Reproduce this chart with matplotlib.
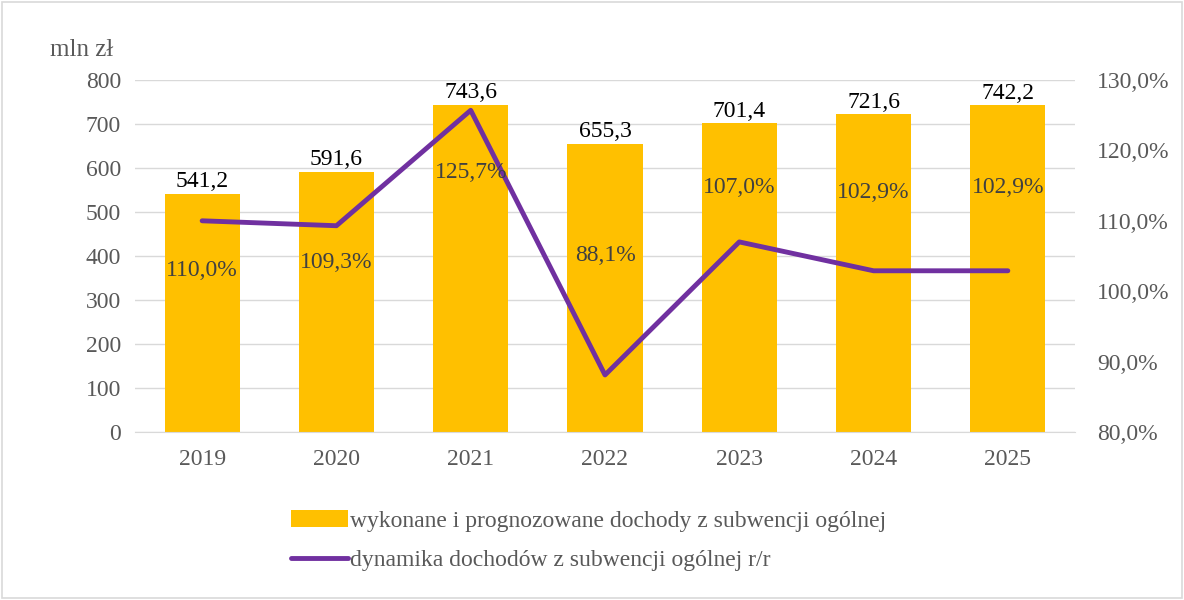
import matplotlib.pyplot as plt
from matplotlib.patches import Rectangle

### DATA

years = ['2019', '2020', '2021', '2022', '2023', '2024', '2025']
income = [541.2, 591.6, 743.6, 655.3, 701.4, 721.6, 742.2]
dynamics = [110.0, 109.3, 125.7, 88.1, 107.0, 102.9, 102.9]
# label offsets (pixels, + is down) for the percentage labels
pct_offsets = [50, 37, 62, -119, -54, -78, -83]

bar_label = 'wykonane i prognozowane dochody z subwencji ogólnej'
line_label = 'dynamika dochodów z subwencji ogólnej r/r'

### STYLE

plt.rcParams['font.family'] = ['Liberation Serif', 'DejaVu Serif']
gold = '#FFC000'
purple = '#7030A0'
grey_txt = '#595959'
fs = 17

fig = plt.figure(figsize=(11.84, 6.0), dpi=100)
ax = fig.add_axes([135 / 1184, 1 - 432 / 600, 940 / 1184, 352 / 600])
ax2 = ax.twinx()

x = list(range(len(years)))

ax.bar(x, income, width=0.56, color=gold, zorder=2, label=bar_label)
ax.set_ylim(0, 800)
ax.set_yticks(range(0, 801, 100))
ax.set_xlim(-0.5, len(years) - 0.5)
ax.set_xticks(x)
ax.set_xticklabels(years)
ax.grid(axis='y', color='#D9D9D9', linewidth=1, zorder=0)
ax.set_axisbelow(True)

for xi, v in zip(x, income):
    ax.annotate(f'{v:.1f}'.replace('.', ','), (xi, v), xytext=(0, 1),
                textcoords='offset points', ha='center', va='bottom',
                fontsize=fs, color='black')

ax2.plot(x, dynamics, color=purple, linewidth=3.5, zorder=3,
         solid_capstyle='round', label=line_label)
ax2.set_ylim(80, 130)
ax2.set_yticks(range(80, 131, 10))
ax2.set_yticklabels([f'{v},0%' for v in range(80, 131, 10)])

for xi, v, off in zip(x, dynamics, pct_offsets):
    ax2.annotate(f'{v:.1f}%'.replace('.', ','), (xi, v), xytext=(0, -off * 0.72),
                 textcoords='offset points', ha='center', va='center',
                 fontsize=fs, color='#404040')

for a in (ax, ax2):
    for s in a.spines.values():
        s.set_visible(False)
    a.tick_params(length=0, labelsize=fs, labelcolor=grey_txt)
ax.spines['bottom'].set_visible(True)
ax.spines['bottom'].set_color('#D9D9D9')
ax.tick_params(axis='x', pad=12)
ax.tick_params(axis='y', pad=10)
ax2.tick_params(axis='y', pad=16)

fig.text(113 / 1184, 1 - 50 / 600, 'mln zł', ha='right', va='center',
         fontsize=18, color=grey_txt)

h1, l1 = ax.get_legend_handles_labels()
h2, l2 = ax2.get_legend_handles_labels()
fig.legend(h1 + h2, l1 + l2, loc='upper left',
           bbox_to_anchor=(270 / 1184, 1 - 489 / 600), frameon=False,
           fontsize=fs, labelcolor=grey_txt, handlelength=2.4,
           handletextpad=0.1, labelspacing=0.75)

fig.patches.append(Rectangle((0.002, 0.003), 0.996, 0.994, transform=fig.transFigure,
                             fill=False, edgecolor='#D9D9D9', linewidth=1.2))

fig.savefig('out.png', dpi=100)
